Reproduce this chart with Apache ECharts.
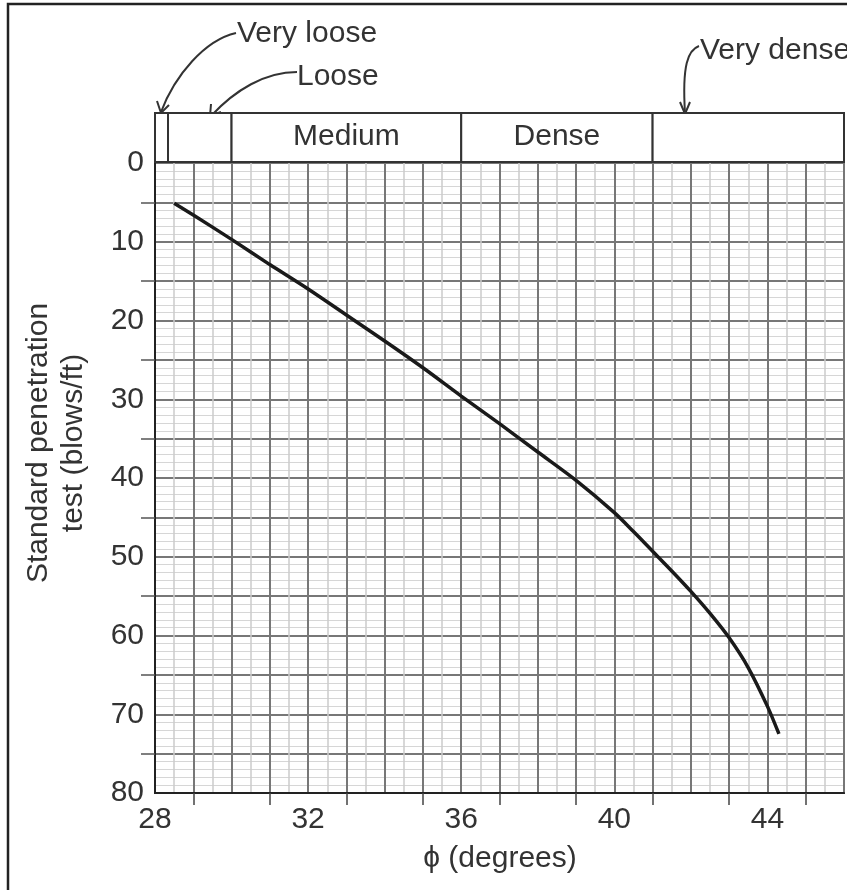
<!DOCTYPE html>
<html>
<head>
<meta charset="utf-8">
<script src="https://cdn.jsdelivr.net/npm/echarts@6/dist/echarts.min.js"></script>
<style>html,body{margin:0;padding:0;background:#fff;}#c{width:847px;height:890px;}</style>
</head>
<body>
<div id="c"></div>
<script>
// Curve: friction angle (deg) vs SPT N (blows/ft)
const phiValues = [28.5, 29, 30, 31, 32, 33, 34, 35, 36, 37, 38, 39, 40, 40.5, 41, 41.5, 42, 42.5, 43, 43.5, 44, 44.3];
const nValues   = [5.1, 6.6, 9.7, 12.9, 16.0, 19.3, 22.6, 26.0, 29.6, 33.1, 36.7, 40.3, 44.4, 46.8, 49.3, 51.8, 54.4, 57.2, 60.3, 64.1, 69.0, 72.5];
// Density bands along phi
const bandStart  = [28, 28.34, 30, 36, 41];
const bandEnd    = [28.34, 30, 36, 41, 46];
const bandLabels = ['', '', 'Medium', 'Dense', ''];
// Tick labels
const xLabelValues = [28, 32, 36, 40, 44];
const xTickValues  = [29, 31, 33, 35, 37, 39, 41, 43, 45];
const yLabelValues = [0, 10, 20, 30, 40, 50, 60, 70, 80];
const yTickValues  = [5, 15, 25, 35, 45, 55, 65, 75];

const FONT = 'Liberation Sans';
const TXT = '#333';
const FS = 30;
const chart = echarts.init(document.getElementById('c'), null, {renderer: 'canvas'});

const gridAxisX = (interval, color, width) => ({
  type: 'value', gridIndex: 0, position: 'bottom', min: 28, max: 46, interval: interval,
  axisLine: {show: false}, axisTick: {show: false}, axisLabel: {show: false},
  splitLine: {show: true, lineStyle: {color: color, width: width}}
});
const gridAxisY = (interval, color, width) => ({
  type: 'value', gridIndex: 0, position: 'left', min: 0, max: 80, inverse: true, interval: interval,
  axisLine: {show: false}, axisTick: {show: false}, axisLabel: {show: false},
  splitLine: {show: true, lineStyle: {color: color, width: width}}
});
const stroke = {fill: null, stroke: '#333', lineWidth: 2};
const curve = (x1, y1, cx1, cy1, cx2, cy2, x2, y2) => ({
  type: 'bezierCurve', shape: {x1: x1, y1: y1, cpx1: cx1, cpy1: cy1, cpx2: cx2, cpy2: cy2, x2: x2, y2: y2}, style: stroke
});
const head = (pts) => ({type: 'polyline', shape: {points: pts}, style: stroke});

const option = {
  animation: false,
  backgroundColor: '#fff',
  grid: [
    {left: 155, right: 3, top: 163, bottom: 97, outerBoundsMode: 'none', containLabel: false,
     show: true, borderColor: '#333', borderWidth: 2, backgroundColor: '#fff'},
    {left: 155, right: 3, top: 113, height: 49, outerBoundsMode: 'none', containLabel: false}
  ],
  xAxis: [
    gridAxisX(0.5, '#cbcbcb', 1.5),
    gridAxisX(1, '#777', 2),
    {
      type: 'value', gridIndex: 0, position: 'bottom', min: 28, max: 46,
      axisLine: {show: true, onZero: false, lineStyle: {color: '#222', width: 2}},
      axisTick: {show: true, customValues: xTickValues, length: 12, lineStyle: {color: '#444', width: 1.5}},
      axisLabel: {show: true, customValues: xLabelValues, margin: 12, fontFamily: FONT, fontSize: FS, color: TXT},
      splitLine: {show: false}
    },
    {type: 'value', gridIndex: 1, min: 28, max: 46, show: false}
  ],
  yAxis: [
    gridAxisY(1, '#d6d6d6', 1.2),
    gridAxisY(5, '#777', 2),
    {
      type: 'value', gridIndex: 0, position: 'left', min: 0, max: 80, inverse: true, interval: 10,
      axisLine: {show: true, onZero: false, lineStyle: {color: '#222', width: 2}},
      axisTick: {show: true, customValues: yTickValues, length: 14, lineStyle: {color: '#555', width: 1.5}},
      axisLabel: {show: true, customValues: yLabelValues, margin: 11, fontFamily: FONT, fontSize: FS, color: TXT},
      splitLine: {show: false}
    },
    {type: 'value', gridIndex: 1, min: 0, max: 1, show: false}
  ],
  series: [
    {
      type: 'line', xAxisIndex: 2, yAxisIndex: 2,
      data: phiValues.map((p, i) => [p, nValues[i]]),
      smooth: 0.3, showSymbol: false, symbol: 'none',
      lineStyle: {color: '#1a1a1a', width: 3.5}, z: 10
    },
    {
      type: 'custom', xAxisIndex: 3, yAxisIndex: 3,
      data: bandStart.map((s, i) => [s, bandEnd[i]]),
      renderItem: function (params, api) {
        const p0 = api.coord([api.value(0), 1]);
        const p1 = api.coord([api.value(1), 0]);
        const label = bandLabels[params.dataIndex];
        return {
          type: 'group',
          children: [
            {type: 'rect', shape: {x: p0[0], y: p0[1], width: p1[0] - p0[0], height: p1[1] - p0[1]},
             style: {fill: '#fff', stroke: '#333', lineWidth: 2}},
            {type: 'text', style: {text: label, x: (p0[0] + p1[0]) / 2, y: (p0[1] + p1[1]) / 2 - 1,
             align: 'center', verticalAlign: 'middle', fontFamily: FONT, fontSize: FS, fill: TXT}}
          ]
        };
      }
    }
  ],
  graphic: [
    {type: 'rect', shape: {x: 8, y: 4, width: 860, height: 920}, style: {fill: null, stroke: '#222', lineWidth: 2.5}, z: 100},
    {type: 'text', x: 237, y: 34, style: {text: 'Very loose', fontFamily: FONT, fontSize: FS, fill: TXT, align: 'left', verticalAlign: 'middle'}},
    {type: 'text', x: 297, y: 77, style: {text: 'Loose', fontFamily: FONT, fontSize: FS, fill: TXT, align: 'left', verticalAlign: 'middle'}},
    {type: 'text', x: 700, y: 51, style: {text: 'Very dense', fontFamily: FONT, fontSize: FS, fill: TXT, align: 'left', verticalAlign: 'middle'}},
    curve(236, 33, 205, 40, 175, 75, 161, 112),
    head([[157, 101], [161, 113], [169, 105]]),
    curve(297, 72, 265, 72, 235, 90, 211, 116),
    head([[211, 104], [210, 116], [221, 112]]),
    curve(699, 46, 688, 50, 682, 65, 685, 113),
    head([[680, 102], [685, 114], [690, 102]]),
    {type: 'text', x: 500, y: 859, style: {text: '\u03d5 (degrees)', fontFamily: FONT, fontSize: FS, fill: TXT, align: 'center', verticalAlign: 'middle'}},
    {type: 'text', x: 56, y: 443, rotation: Math.PI / 2,
     style: {text: 'Standard penetration\ntest (blows/ft)', fontFamily: FONT, fontSize: FS, lineHeight: 35, fill: TXT, align: 'center', verticalAlign: 'middle'}}
  ]
};
chart.setOption(option);
</script>
</body>
</html>
